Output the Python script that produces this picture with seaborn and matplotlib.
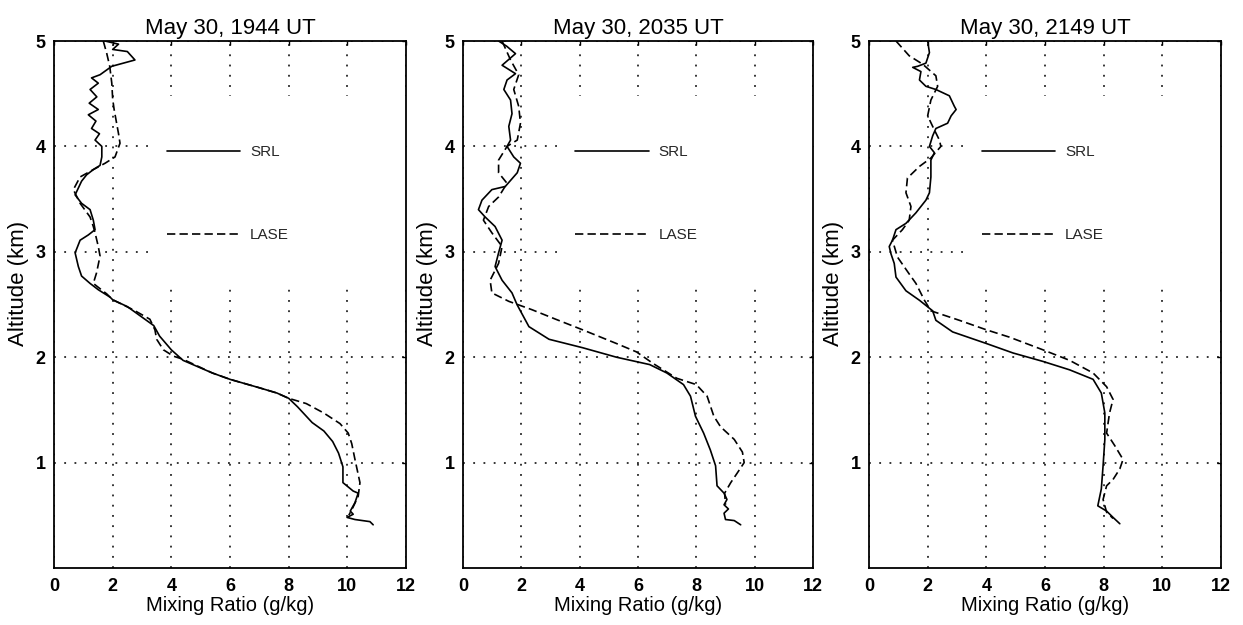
import matplotlib
matplotlib.use("Agg")
import matplotlib.pyplot as plt
import seaborn as sns
from matplotlib.patches import Rectangle

# ---------------- data ----------------
titles = ["May 30, 1944 UT", "May 30, 2035 UT", "May 30, 2149 UT"]
series_names = ["SRL", "LASE"]
x_ticks = [0, 2, 4, 6, 8, 10, 12]
y_ticks = [1, 2, 3, 4, 5]

# Panel 1 (1944 UT)
p1_srl_mr = [1.74, 2.2, 2.0, 2.5, 2.76, 1.97, 1.57, 1.28, 1.51, 1.23, 1.46, 1.2, 1.51, 1.17, 1.43, 1.28,
             1.55, 1.4, 1.63, 1.63, 1.57, 1.34, 1.11, 0.94, 0.72, 0.94, 1.23, 1.34, 1.4, 1.17, 0.89, 0.72,
             0.83, 0.94, 1.23, 1.51, 1.91, 2.0, 2.5, 2.8, 3.4, 3.6, 4.0, 4.4, 5.4, 6.0, 7.0, 7.6, 8.0, 8.3,
             8.8, 9.2, 9.5, 9.7, 9.85, 9.85, 10.2, 10.37, 10.26, 10.1, 10.2, 9.99, 10.26, 10.77, 10.88]
p1_srl_alt = [5.0, 4.97, 4.92, 4.9, 4.82, 4.76, 4.68, 4.65, 4.6, 4.54, 4.47, 4.41, 4.35, 4.3, 4.24, 4.17,
              4.12, 4.06, 4.0, 3.9, 3.82, 3.78, 3.73, 3.67, 3.54, 3.46, 3.4, 3.3, 3.21, 3.16, 3.11, 2.99,
              2.86, 2.77, 2.7, 2.64, 2.57, 2.545, 2.48, 2.42, 2.3, 2.2, 2.07, 1.97, 1.85, 1.79, 1.71, 1.66, 1.61, 1.53,
              1.38, 1.3, 1.2, 1.09, 0.96, 0.81, 0.73, 0.71, 0.62, 0.54, 0.51, 0.48, 0.46, 0.44, 0.41]
p1_lase_mr = [1.68, 1.8, 1.9, 1.97, 2.0, 2.05, 2.2, 2.25, 2.08, 1.74, 1.34, 0.89, 0.66, 0.89, 1.23, 1.34,
              1.4, 1.51, 1.57, 1.45, 1.34, 1.8, 2.0, 2.7, 3.27, 3.44, 3.5, 3.73, 4.07, 4.4, 5.4, 6.0, 7.0,
              7.6, 8.0, 8.6, 9.2, 9.75, 10.03, 10.15, 10.26, 10.43, 10.37, 10.2, 10.05]
p1_lase_alt = [5.0, 4.88, 4.76, 4.6, 4.45, 4.35, 4.12, 4.03, 3.9, 3.84, 3.78, 3.71, 3.59, 3.46, 3.33, 3.24,
               3.18, 3.05, 2.96, 2.8, 2.7, 2.6, 2.545, 2.45, 2.36, 2.26, 2.17, 2.07, 2.01, 1.98, 1.85, 1.79, 1.71,
               1.66, 1.61, 1.56, 1.47, 1.37, 1.28, 1.18, 1.03, 0.81, 0.68, 0.58, 0.5]

# Panel 2 (2035 UT)
p2_srl_mr = [1.22, 1.5, 1.8, 1.34, 1.8, 1.51, 1.4, 1.63, 1.68, 1.57, 1.63, 1.51, 1.74, 1.97, 1.86, 1.45,
             0.99, 0.65, 0.53, 0.76, 1.1, 1.34, 1.22, 1.1, 1.34, 1.68, 1.85, 2.26, 2.95, 4.1, 5.26, 6.4,
             6.99, 7.56, 7.8, 7.97, 8.25, 8.48, 8.66, 8.71, 8.95, 9.05, 8.95, 9.1, 8.95, 9.0, 9.3, 9.52]
p2_srl_alt = [5.0, 4.95, 4.88, 4.77, 4.69, 4.63, 4.54, 4.44, 4.31, 4.19, 4.06, 4.0, 3.9, 3.84, 3.75, 3.62,
              3.59, 3.49, 3.4, 3.33, 3.24, 3.11, 2.99, 2.86, 2.73, 2.61, 2.5, 2.29, 2.17, 2.09, 2.0, 1.93,
              1.85, 1.74, 1.63, 1.44, 1.28, 1.12, 0.97, 0.78, 0.71, 0.65, 0.6, 0.56, 0.52, 0.46, 0.45, 0.41]
p2_lase_mr = [1.34, 1.63, 1.91, 1.74, 1.91, 1.97, 1.86, 1.51, 1.22, 1.22, 1.51, 1.22, 0.88, 0.7, 0.99, 1.34,
              1.22, 0.93, 0.99, 1.57, 2.37, 3.18, 4.1, 5.26, 5.95, 6.52, 7.33, 8.0, 8.37, 8.6, 8.83, 9.3,
              9.58, 9.64, 9.4, 9.18, 8.97, 9.0]
p2_lase_alt = [5.0, 4.82, 4.68, 4.54, 4.38, 4.22, 4.06, 4.0, 3.87, 3.75, 3.65, 3.52, 3.43, 3.3, 3.18, 3.05,
               2.89, 2.73, 2.61, 2.53, 2.45, 2.36, 2.26, 2.13, 2.05, 1.94, 1.8, 1.74, 1.63, 1.44, 1.34, 1.22,
               1.1, 1.0, 0.9, 0.81, 0.71, 0.6]

# Panel 3 (2149 UT)
p3_srl_mr = [2.0, 2.06, 1.94, 1.66, 1.49, 1.77, 1.72, 1.94, 2.28, 2.74, 2.91, 2.97, 2.8, 2.68, 2.28, 2.17,
             2.06, 2.23, 2.11, 2.11, 2.06, 1.94, 1.6, 1.26, 0.92, 0.8, 0.69, 0.75, 0.86, 0.92, 1.26, 1.72,
             2.17, 2.28, 2.85, 4.0, 4.91, 5.93, 6.84, 7.64, 7.92, 8.04, 8.04, 7.98, 7.92, 7.8, 8.1, 8.32, 8.55]
p3_srl_alt = [5.0, 4.89, 4.79, 4.76, 4.75, 4.71, 4.63, 4.57, 4.54, 4.48, 4.38, 4.35, 4.29, 4.22, 4.17, 4.1,
              4.0, 3.94, 3.87, 3.71, 3.56, 3.49, 3.37, 3.27, 3.21, 3.11, 3.05, 2.98, 2.89, 2.76, 2.63, 2.54,
              2.44, 2.35, 2.24, 2.13, 2.04, 1.96, 1.88, 1.79, 1.66, 1.47, 1.22, 0.97, 0.75, 0.59, 0.54, 0.48, 0.42]
p3_lase_mr = [0.92, 1.37, 1.83, 2.28, 2.34, 2.11, 2.0, 2.17, 2.4, 2.45, 2.11, 1.72, 1.31, 1.26, 1.43, 1.37,
              1.14, 0.8, 0.97, 1.37, 1.6, 1.89, 2.11, 3.08, 4.0, 4.79, 5.93, 6.84, 7.64, 8.1, 8.32, 8.2,
              8.1, 8.38, 8.66, 8.55, 8.32, 8.1, 7.98, 8.1, 8.32]
p3_lase_alt = [5.0, 4.86, 4.78, 4.67, 4.57, 4.44, 4.29, 4.19, 4.06, 4.0, 3.89, 3.81, 3.7, 3.56, 3.43, 3.3,
               3.21, 3.11, 2.95, 2.79, 2.7, 2.54, 2.44, 2.35, 2.26, 2.19, 2.07, 1.97, 1.85, 1.72, 1.6, 1.47,
               1.28, 1.16, 1.03, 0.94, 0.84, 0.78, 0.65, 0.53, 0.47]

panels = [
    (p1_srl_mr, p1_srl_alt, p1_lase_mr, p1_lase_alt),
    (p2_srl_mr, p2_srl_alt, p2_lase_mr, p2_lase_alt),
    (p3_srl_mr, p3_srl_alt, p3_lase_mr, p3_lase_alt),
]

# ---------------- style ----------------
sns.set_theme(style="white")
plt.rcParams["font.family"] = ["Liberation Sans", "DejaVu Sans"]

W, H = 1243, 625
fig = plt.figure(figsize=(W / 100, H / 100), dpi=100)
fig.patch.set_facecolor("white")

axes_px = [(54, 406), (463, 813), (869, 1221)]
top_px, bot_px = 41, 568

for i, (title, (s_mr, s_alt, l_mr, l_alt)) in enumerate(zip(titles, panels)):
    l, r = axes_px[i]
    ax = fig.add_axes([l / W, 1 - bot_px / H, (r - l) / W, (bot_px - top_px) / H])
    ax.set_facecolor("white")

    sns.lineplot(x=s_mr, y=s_alt, sort=False, estimator=None, color="black",
                 linewidth=1.2, ax=ax, label=series_names[0], zorder=3)
    sns.lineplot(x=l_mr, y=l_alt, sort=False, estimator=None, color="black",
                 linewidth=1.2, linestyle=(0, (5, 2.5)), ax=ax, label=series_names[1], zorder=3)

    ax.set_xlim(0, 12)
    ax.set_ylim(0, 5)
    ax.set_xticks(x_ticks)
    ax.set_yticks(y_ticks)

    ax.grid(True, color="black", linestyle=(0, (1.2, 5.5)), linewidth=1.1)
    ax.set_axisbelow(True)

    # blank area behind the legend (as in the original figure)
    ax.add_patch(Rectangle((3.35, 2.68), 12 - 3.35, 4.48 - 2.68, facecolor="white",
                           edgecolor="none", zorder=1))

    leg = ax.legend(loc="center left", bbox_to_anchor=(3.85, 3.55),
                    bbox_transform=ax.transData, frameon=False, fontsize=11,
                    handlelength=4.8, handletextpad=0.65, labelspacing=4.5,
                    borderpad=0, borderaxespad=0)
    leg.set_zorder(4)

    for sp in ax.spines.values():
        sp.set_color("black")
        sp.set_linewidth(1.3)

    ax.tick_params(direction="in", top=True, right=True, length=3, width=1,
                   colors="black", labelsize=13)
    ax.tick_params(axis="x", pad=7)
    ax.tick_params(axis="y", pad=6)
    for t in ax.get_xticklabels() + ax.get_yticklabels():
        t.set_fontweight("bold")

    ax.set_title(title, fontsize=16, pad=5, color="black")
    ax.set_xlabel("Mixing Ratio (g/kg)", fontsize=14.5, labelpad=1, color="black")
    ax.set_ylabel("Altitude (km)", fontsize=16, color="black")
    ax.yaxis.set_label_coords(-0.072, 0.54)

fig.savefig("out.png", dpi=100, facecolor="white")
